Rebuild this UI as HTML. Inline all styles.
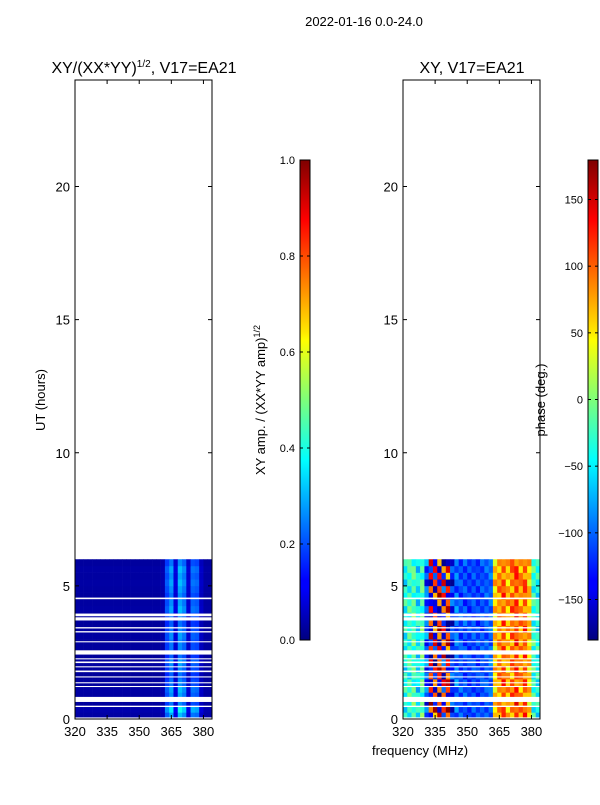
<!DOCTYPE html>
<html><head><meta charset="utf-8"><style>
body{margin:0;background:#fff;width:600px;height:800px;overflow:hidden}
svg text{font-family:"Liberation Sans",sans-serif;fill:#000}
</style></head><body>
<svg id="s" width="600" height="800" xmlns="http://www.w3.org/2000/svg">
<defs>
<linearGradient id="jet" x1="0" y1="1" x2="0" y2="0">
<stop offset="0" stop-color="#00007f"/><stop offset="0.11" stop-color="#0000ff"/><stop offset="0.125" stop-color="#0000ff"/>
<stop offset="0.34" stop-color="#00dcff"/><stop offset="0.375" stop-color="#00ffff"/><stop offset="0.5" stop-color="#7dff7a"/>
<stop offset="0.625" stop-color="#ffff00"/><stop offset="0.64" stop-color="#ffea00"/><stop offset="0.875" stop-color="#ff0000"/><stop offset="1" stop-color="#7f0000"/>
</linearGradient>
</defs>
<text x="364" y="26" font-size="13" text-anchor="middle">2022-01-16 0.0-24.0</text>
<text x="144" y="73" font-size="16" text-anchor="middle">XY/(XX*YY)<tspan font-size="10" dy="-6">1/2</tspan><tspan dy="6">, V17=EA21</tspan></text>
<text x="472" y="73" font-size="16" text-anchor="middle">XY, V17=EA21</text>
<text x="45" y="400" font-size="13" text-anchor="middle" transform="rotate(-90 45 400)">UT (hours)</text>
<text x="420" y="755" font-size="13" text-anchor="middle">frequency (MHz)</text>
<text x="265" y="400" font-size="13" text-anchor="middle" transform="rotate(-90 265 400)">XY amp. / (XX*YY amp)<tspan font-size="9" dy="-5">1/2</tspan></text>
<text x="545" y="400" font-size="13" text-anchor="middle" transform="rotate(-90 545 400)">phase (deg.)</text>
<g id="left"></g>
<g id="right"></g>
<g id="axes"></g>
<rect x="300" y="160" width="10" height="480" fill="url(#jet)" stroke="#000"/>
<rect x="588" y="160" width="10" height="480" fill="url(#jet)" stroke="#000"/>
</svg>
<script>
const hourTicks=[0,5,10,15,20];
const freqTicks=[320,335,350,365,380];
const ampTicks=[0.0,0.2,0.4,0.6,0.8,1.0];
const phaseTicks=[-150,-100,-50,0,50,100,150];
// amplitude per 2 MHz channel (320..384)
const ampChan=[0.03,0.03,0.03,0.03,0.03,0.03,0.03,0.03,0.03,0.03,0.03,0.03,0.03,0.03,0.03,0.03,0.03,0.03,0.03,0.03,0.04,0.18,0.24,0.08,0.26,0.22,0.07,0.2,0.19,0.06,0.03,0.03];
// phase per 2 MHz channel
const phaseChan=[-40,-30,-20,-50,-20,-110,170,160,150,175,140,-130,-100,-110,-110,-115,-110,-115,-110,-105,-100,60,80,100,70,90,110,80,100,60,-30,-40];
const phaseVar=[35,35,35,35,35,50,90,110,90,110,90,50,30,25,25,20,20,20,20,20,20,35,35,40,35,40,40,35,40,35,35,35];
// per 0.25 h row modulation (rows 0..23 → 0..6 h)
const rowAmp=[1.2,1.5,1.0,1.1,1.2,1.0,0.9,1.0,1.1,0.9,1.0,1.0,1.1,1.0,0.9,1.0,1.2,1.1,1.0,1.1,1.2,1.1,1.2,1.0];
const rowOff=[0.5,-0.8,0.3,-0.4,0.9,-0.2,0.6,-0.9,0.1,0.7,-0.5,0.4,-0.7,0.8,-0.3,0.2,-0.6,0.9,-0.1,0.5,-0.8,0.3,-0.4,0.6];
const gaps=[[0,0.06],[0.45,0.5],[0.64,0.83],[1.2,1.24],[1.34,1.38],[1.56,1.6],[1.76,1.82],[1.94,1.98],[2.1,2.16],[2.24,2.28],[2.42,2.58],[2.88,2.92],[3.25,3.3],[3.4,3.45],[3.7,3.82],[3.86,3.96],[4.5,4.56]];
const NS="http://www.w3.org/2000/svg";
const s=document.getElementById('s');
function yH(h){return 719-h*639/24;}
function xL(f){return 75+(f-320)*137/64;}
function xR(f){return 403+(f-320)*137/64;}
function jet(v){v=Math.max(0,Math.min(1,v));
 const r=Math.max(0,Math.min(1,1.5-Math.abs(4*v-3))),g=Math.max(0,Math.min(1,1.5-Math.abs(4*v-2))),b=Math.max(0,Math.min(1,1.5-Math.abs(4*v-1)));
 return `rgb(${Math.round(r*255)},${Math.round(g*255)},${Math.round(b*255)})`;}
function mk(tag,attrs,parent){const e=document.createElementNS(NS,tag);for(const k in attrs)e.setAttribute(k,attrs[k]);(parent||s).appendChild(e);return e;}
const L=document.getElementById('left'),R=document.getElementById('right');
for(let r=0;r<rowAmp.length;r++){
 const h0=r*0.25,h1=h0+0.25;
 for(let c=0;c<ampChan.length;c++){
  const f0=320+c*2,f1=f0+2;
  const a=mk('rect',{x:xL(f0),y:yH(h1),width:xL(f1)-xL(f0)+0.3,height:yH(h0)-yH(h1)+0.3,fill:jet(ampChan[c]*rowAmp[r])},L);
  
  
  let p=phaseChan[c]+phaseVar[c]*rowOff[(r+c)%rowOff.length];
  p=((p+180)%360+360)%360-180;
  const b=mk('rect',{x:xR(f0),y:yH(h1),width:xR(f1)-xR(f0)+0.3,height:yH(h0)-yH(h1)+0.3,fill:jet((p+180)/360)},R);
  
  
 }
}
gaps.forEach(g=>{[75,403].forEach(x0=>{
 const w=mk('rect',{x:x0,y:yH(g[1]),width:137,height:yH(g[0])-yH(g[1]),fill:'#fff'});
 
 
});});
[75,403].forEach((x0,i)=>{
 const f=i?xR:xL;
 const fr=mk('rect',{x:x0,y:80,width:137,height:639,fill:'none',stroke:'#000'});
 
 
 hourTicks.forEach(h=>{
  mk('line',{x1:x0,x2:x0+4,y1:yH(h),y2:yH(h),stroke:'#000'});
  mk('line',{x1:x0+137,x2:x0+133,y1:yH(h),y2:yH(h),stroke:'#000'});
  const t=mk('text',{x:x0-5,y:yH(h)+5,'font-size':13,'text-anchor':'end'});t.textContent=h;
  
  
 });
 freqTicks.forEach(v=>{
  mk('line',{x1:f(v),x2:f(v),y1:719,y2:715,stroke:'#000'});
  mk('line',{x1:f(v),x2:f(v),y1:80,y2:84,stroke:'#000'});
  const t=mk('text',{x:f(v),y:736,'font-size':13,'text-anchor':'middle'});t.textContent=v;
  
  
 });
});
ampTicks.forEach(v=>{const y=640-v*480;
 mk('line',{x1:300,x2:303,y1:y,y2:y,stroke:'#000'});mk('line',{x1:310,x2:307,y1:y,y2:y,stroke:'#000'});
 const t=mk('text',{x:295,y:y+4,'font-size':11,'text-anchor':'end'});t.textContent=v.toFixed(1);
 
 });
phaseTicks.forEach(v=>{const y=399.5-v*480/360;
 mk('line',{x1:588,x2:591,y1:y,y2:y,stroke:'#000'});mk('line',{x1:598,x2:595,y1:y,y2:y,stroke:'#000'});
 const t=mk('text',{x:583,y:y+4,'font-size':11,'text-anchor':'end'});t.textContent=v<0?'\u2212'+(-v):v;
 
 });
</script>
</body></html>
